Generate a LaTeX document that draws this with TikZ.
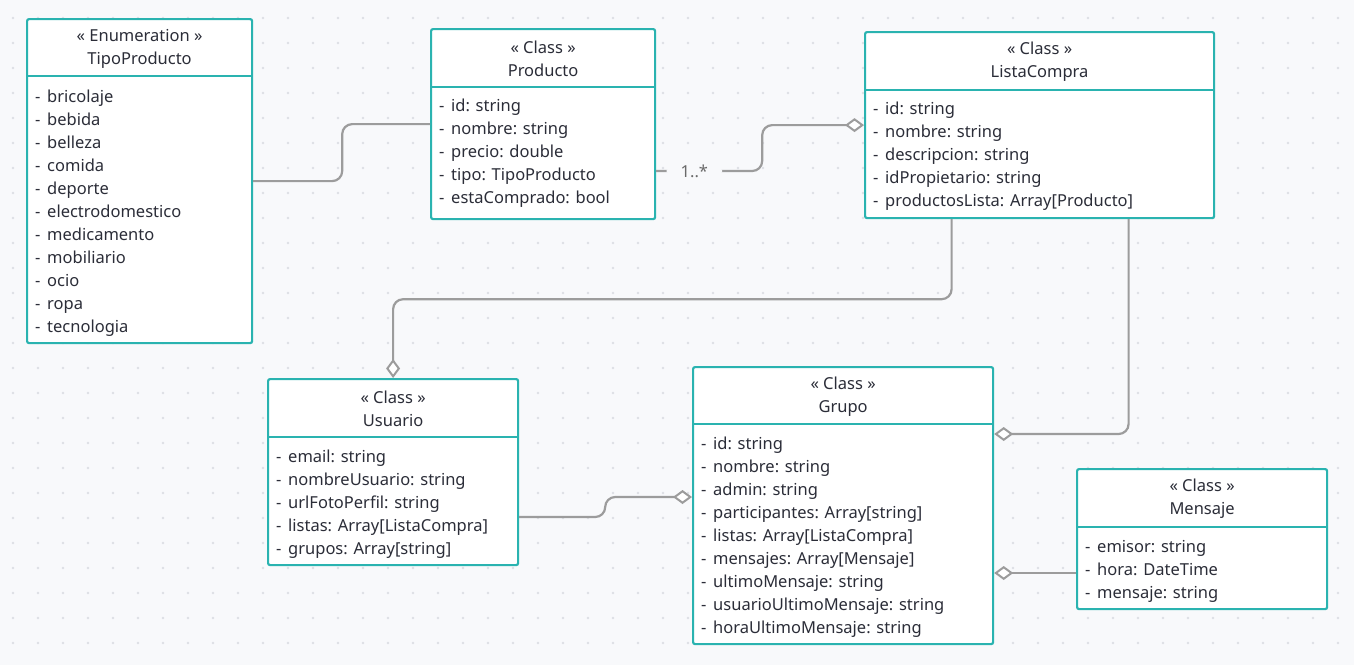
\documentclass[tikz,border=0pt]{standalone}
\usepackage{fontspec}
\setmainfont{Noto Sans}
\usetikzlibrary{arrows.meta, calc}

\definecolor{bgc}{HTML}{F8F9FB}
\definecolor{dotc}{HTML}{DDDFE4}
\definecolor{tealc}{HTML}{2AB3B0}
\definecolor{linkc}{HTML}{9C9C9C}
\definecolor{textc}{HTML}{2B2D38}
\definecolor{multc}{HTML}{6A6A6A}

\newcommand{\rowdash}{\makebox[12pt][l]{-}}

\tikzset{
  classbox/.style={draw=tealc, line width=2.2pt, fill=white, rounded corners=2pt,
    anchor=north west, inner sep=0pt},
  divider/.style={draw=tealc, line width=2.2pt},
  headtext/.style={align=center, text=textc, inner sep=0pt,
    font=\fontsize{16.5}{23}\selectfont},
  attrs/.style={anchor=north west, align=left, text=textc, inner sep=0pt,
    font=\fontsize{16.5}{23}\selectfont},
  link/.style={draw=linkc, line width=2.2pt, rounded corners=10pt},
  agg/.style={-{Diamond[length=19pt, width=14pt, fill=white, line width=2pt]}},
  mult/.style={fill=bgc, text=multc, inner xsep=14pt, inner ysep=2pt,
    font=\fontsize{16.5}{18}\selectfont}
}

\begin{document}
\begin{tikzpicture}[x=1pt, y=-1pt]
  % fondo con rejilla de puntos
  \fill[bgc] (0,0) rectangle (1354,665);
  \foreach \gx in {13,38,...,1340}
    \foreach \gy in {18,43,...,660}
      \fill[dotc] (\gx,\gy) circle (1.3pt);

  % clases
  \node[classbox, minimum width=225pt, minimum height=324pt] (tipo) at (26,18) {};
  \draw[divider] ([yshift=-58pt]tipo.north west) -- ([yshift=-58pt]tipo.north east);
  \node[headtext] at ([yshift=-31pt]tipo.north) {« Enumeration »\\TipoProducto};
  \node[attrs] at (35,90) {\rowdash bricolaje\\\rowdash bebida\\\rowdash belleza\\
    \rowdash comida\\\rowdash deporte\\\rowdash electrodomestico\\\rowdash medicamento\\
    \rowdash mobiliario\\\rowdash ocio\\\rowdash ropa\\\rowdash tecnologia};

  \node[classbox, minimum width=224pt, minimum height=190pt] (prod) at (430,28) {};
  \draw[divider] ([yshift=-59pt]prod.north west) -- ([yshift=-59pt]prod.north east);
  \node[headtext] at ([yshift=-31pt]prod.north) {« Class »\\Producto};
  \node[attrs] at (439,99) {\rowdash id: string\\\rowdash nombre: string\\
    \rowdash precio: double\\\rowdash tipo: TipoProducto\\\rowdash estaComprado: bool};

  \node[classbox, minimum width=349pt, minimum height=186pt] (lista) at (864,31) {};
  \draw[divider] ([yshift=-59pt]lista.north west) -- ([yshift=-59pt]lista.north east);
  \node[headtext] at ([yshift=-31pt]lista.north) {« Class »\\ListaCompra};
  \node[attrs] at (873,102) {\rowdash id: string\\\rowdash nombre: string\\
    \rowdash descripcion: string\\\rowdash idPropietario: string\\
    \rowdash productosLista: Array[Producto]};

  \node[classbox, minimum width=250pt, minimum height=186pt] (usu) at (267,378) {};
  \draw[divider] ([yshift=-59pt]usu.north west) -- ([yshift=-59pt]usu.north east);
  \node[headtext] at ([yshift=-31pt]usu.north) {« Class »\\Usuario};
  \node[attrs] at (276,450) {\rowdash email: string\\\rowdash nombreUsuario: string\\
    \rowdash urlFotoPerfil: string\\\rowdash listas: Array[ListaCompra]\\
    \rowdash grupos: Array[string]};

  \node[classbox, minimum width=300pt, minimum height=277pt] (grupo) at (692,366) {};
  \draw[divider] ([yshift=-58pt]grupo.north west) -- ([yshift=-58pt]grupo.north east);
  \node[headtext] at ([yshift=-31pt]grupo.north) {« Class »\\Grupo};
  \node[attrs] at (701,437) {\rowdash id: string\\\rowdash nombre: string\\
    \rowdash admin: string\\\rowdash participantes: Array[string]\\
    \rowdash listas: Array[ListaCompra]\\\rowdash mensajes: Array[Mensaje]\\
    \rowdash ultimoMensaje: string\\\rowdash usuarioUltimoMensaje: string\\
    \rowdash horaUltimoMensaje: string};

  \node[classbox, minimum width=250pt, minimum height=140pt] (msj) at (1076,468) {};
  \draw[divider] ([yshift=-59pt]msj.north west) -- ([yshift=-59pt]msj.north east);
  \node[headtext] at ([yshift=-31pt]msj.north) {« Class »\\Mensaje};
  \node[attrs] at (1085,540) {\rowdash emisor: string\\\rowdash hora: DateTime\\
    \rowdash mensaje: string};

  % relaciones
  \draw[link] (tipo.east) -- ++(89,0) |- (prod.west);
  \draw[link, agg] ([yshift=-143pt]prod.north east)
    -- node[mult, pos=0.36] {1..*} ++(106,0) |- (lista.west);
  \draw[link, agg] ([xshift=-88pt]lista.south) -- ++(0,80) -| (usu.north);
  \draw[link, agg] ([xshift=89pt]lista.south) |- ([yshift=-68pt]grupo.north east);
  \draw[link, agg] ([yshift=-139pt]usu.north east) -- ++(86,0)
    |- ([yshift=-131pt]grupo.north west);
  \draw[link, agg] ([yshift=-105pt]msj.north west) -- (grupo.north east |- 0,573);
\end{tikzpicture}
\end{document}
